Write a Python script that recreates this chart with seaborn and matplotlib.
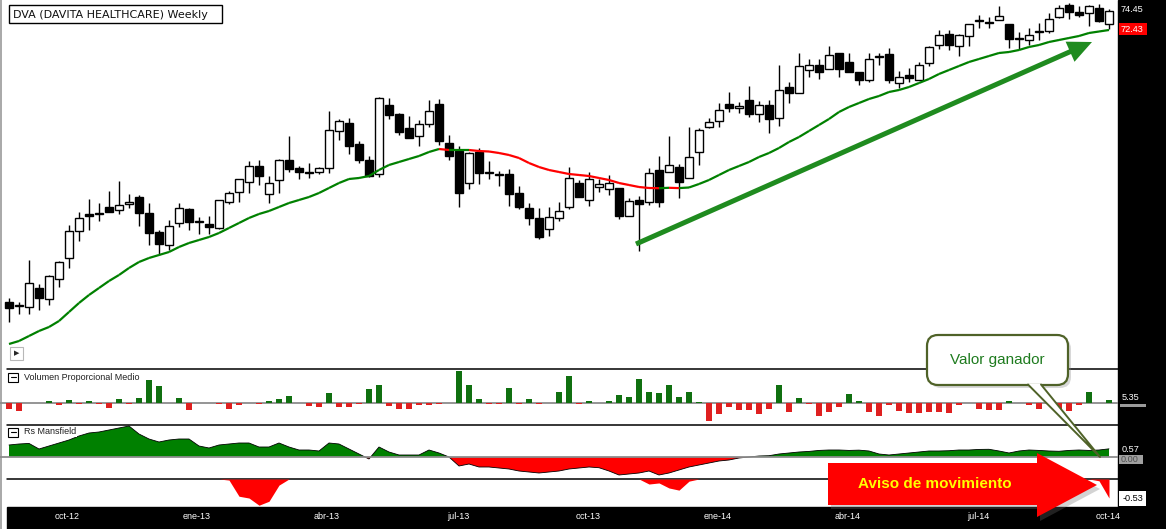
import numpy as np
import pandas as pd
import matplotlib
matplotlib.use("Agg")
import matplotlib.pyplot as plt
import seaborn as sns
from matplotlib.collections import LineCollection
from matplotlib.patches import Rectangle, FancyBboxPatch, Polygon, FancyArrow

# === Weekly candles (DVA, aug-12 .. oct-14) ===
opens = [45.3, 44.9, 44.8, 46.7, 45.6, 47.6, 49.7, 52.4, 54.1, 54.1,
         54.8, 54.5, 55.1, 55.8, 54.2, 52.3, 51.0, 53.2, 54.6, 53.3,
         53.1, 52.7, 55.3, 56.3, 57.3, 58.9, 56.1, 57.5, 59.5, 58.7,
         58.2, 58.3, 58.7, 62.4, 63.2, 61.1, 59.5, 58.1, 65.0, 64.1,
         62.7, 61.9, 63.1, 65.1, 61.2, 60.4, 57.2, 60.3, 58.2, 58.0,
         58.1, 56.2, 54.7, 53.7, 52.6, 53.7, 54.8, 57.2, 55.5, 56.8,
         56.6, 56.7, 53.9, 55.5, 55.3, 58.5, 58.3, 58.8, 57.7, 60.3,
         62.8, 63.4, 65.1, 64.7, 65.5, 64.1, 65.0, 63.7, 66.8, 66.2,
         68.5, 69.0, 68.6, 70.2, 69.3, 68.3, 67.5, 69.8, 70.1, 67.2,
         68.0, 67.5, 69.2, 71.0, 72.1, 70.9, 71.9, 73.4, 73.3, 73.5,
         73.1, 71.6, 71.5, 72.3, 72.4, 73.8, 75.0, 74.3, 74.2, 74.7, 73.1]
highs = [45.7, 45.3, 49.5, 47.1, 48.0, 49.4, 53.0, 54.3, 55.6, 55.2,
         56.4, 57.4, 56.1, 56.0, 55.2, 52.5, 53.5, 55.2, 54.7, 53.8,
         53.9, 55.5, 56.4, 57.6, 59.4, 59.5, 57.9, 59.6, 61.9, 58.9,
         59.2, 58.8, 64.4, 63.6, 63.7, 61.4, 59.9, 65.8, 65.7, 64.2,
         63.9, 63.5, 65.5, 65.6, 62.0, 60.9, 60.3, 60.7, 59.4, 58.4,
         58.6, 56.9, 55.2, 54.7, 54.8, 55.3, 58.8, 57.5, 58.3, 57.6,
         58.0, 56.7, 55.7, 55.9, 58.7, 59.9, 61.9, 59.1, 62.8, 62.7,
         63.7, 65.2, 66.3, 65.3, 66.9, 65.4, 65.5, 69.0, 67.3, 70.2,
         69.6, 69.6, 70.9, 70.2, 70.2, 68.3, 70.2, 70.2, 70.7, 68.4,
         68.7, 69.3, 70.9, 72.5, 72.5, 72.1, 73.1, 74.0, 73.8, 74.9,
         73.1, 72.3, 72.7, 73.2, 74.2, 75.0, 75.2, 74.9, 75.0, 75.1, 74.6]
lows = [43.3, 44.1, 44.1, 44.5, 45.0, 46.8, 48.7, 51.4, 52.5, 53.4,
        54.3, 54.1, 54.7, 52.9, 51.0, 50.0, 50.5, 52.8, 52.5, 52.1,
        52.1, 52.6, 55.1, 55.3, 56.2, 57.0, 55.2, 56.2, 58.3, 57.6,
        57.7, 58.1, 58.2, 61.5, 60.1, 59.2, 57.8, 57.8, 63.6, 62.0,
        61.7, 60.9, 62.8, 61.0, 59.5, 54.8, 56.6, 57.1, 57.6, 56.9,
        54.9, 54.6, 53.0, 51.6, 51.9, 53.4, 54.6, 55.8, 54.9, 56.3,
        56.0, 53.6, 53.9, 50.4, 55.0, 54.8, 58.3, 55.7, 57.7, 59.0,
        62.7, 62.8, 64.3, 64.2, 63.8, 63.3, 62.2, 62.9, 65.2, 66.2,
        67.8, 67.6, 68.6, 67.8, 68.3, 67.0, 67.3, 69.0, 67.2, 66.7,
        67.3, 67.5, 68.9, 70.6, 70.5, 69.9, 70.9, 72.7, 72.7, 73.5,
        70.7, 70.6, 71.0, 71.5, 72.2, 73.7, 73.6, 73.8, 72.9, 73.3, 72.6]
closes = [44.7, 44.9, 47.2, 45.7, 47.9, 49.3, 52.4, 53.7, 53.9, 54.1,
          54.3, 55.0, 55.3, 54.2, 52.2, 51.1, 52.9, 54.7, 53.3, 53.3,
          52.8, 55.5, 56.2, 57.6, 58.9, 57.9, 57.2, 59.5, 58.6, 58.3,
          58.2, 58.7, 62.5, 63.4, 60.9, 59.5, 57.9, 65.7, 64.0, 62.3,
          61.7, 63.1, 64.4, 61.4, 59.9, 56.2, 60.2, 58.2, 58.2, 58.0,
          56.1, 54.8, 53.7, 51.8, 53.8, 54.4, 57.7, 55.8, 57.6, 57.1,
          57.2, 53.9, 55.4, 55.1, 58.2, 55.3, 59.0, 57.3, 59.8, 62.5,
          63.3, 64.5, 64.7, 64.9, 64.1, 65.0, 63.6, 66.5, 66.2, 68.9,
          69.0, 68.3, 70.0, 68.6, 68.3, 67.5, 69.6, 69.8, 67.5, 67.8,
          67.7, 69.0, 70.8, 72.0, 71.0, 72.0, 73.1, 73.4, 73.2, 73.9,
          71.6, 71.6, 72.0, 72.3, 73.6, 74.7, 74.3, 74.0, 74.9, 73.4, 74.4]

# 30-week average as drawn on the chart
ma30 = [41.1, 41.4, 41.9, 42.4, 42.8, 43.4, 44.3, 45.2, 46.0, 46.7,
        47.4, 48.0, 48.7, 49.3, 49.7, 50.0, 50.3, 50.8, 51.2, 51.5,
        51.8, 52.2, 52.7, 53.2, 53.7, 54.1, 54.4, 54.8, 55.2, 55.5,
        55.8, 56.2, 56.7, 57.2, 57.6, 57.7, 57.9, 58.5, 59.0, 59.3,
        59.6, 59.9, 60.3, 60.6, 60.5, 60.5, 60.5, 60.4, 60.35, 60.2,
        60.0, 59.7, 59.2, 58.8, 58.5, 58.3, 58.1, 58.0, 57.9, 57.7,
        57.5, 57.2, 57.0, 56.8, 56.7, 56.68, 56.72, 56.69, 56.75, 57.1,
        57.5, 58.0, 58.5, 58.9, 59.3, 59.8, 60.2, 60.7, 61.3, 61.8,
        62.4, 63.0, 63.6, 64.3, 64.8, 65.2, 65.6, 65.9, 66.3, 66.5,
        66.8, 67.2, 67.6, 68.1, 68.5, 68.9, 69.3, 69.6, 69.9, 70.2,
        70.3, 70.5, 70.8, 71.0, 71.3, 71.5, 71.7, 71.9, 72.2, 72.35, 72.5]

# Volumen Proporcional Medio (deviation from average volume)
volume = [-6, -8, 0, 0, 1.3, -2.7, 2.3, -1.3, 1.3, -1.3,
          -5.3, 3.3, -1.3, 4.3, 22.3, 16.3, 0, 4.3, -7.7, 0,
          0, -1.3, -6.3, -2.7, 0, -1.3, 1.3, 3.3, 6.3, 0,
          -3.7, -4.7, 9.3, -4.7, -4.7, -1.3, 13.3, 17.3, -3.7, -6.3,
          -6.3, -2.3, -2.7, -1.3, 0, 31.3, 17.3, 3.3, -1.3, -1.3,
          14.3, -1.3, 3.3, -1.3, 0, 10.3, 26.3, -1.3, 1.3, 0,
          1.3, 8, 6, 24, 10.3, 9.3, 18, 6, 11, 1,
          -18.7, -11.7, -4.7, -7, -7, -11.7, -6, 18, -9, 5,
          -1.3, -13, -9, -4, 8.3, 2, -9, -13, -2.7, -8,
          -10.7, -10.7, -9, -9, -10.7, -2.7, 0, -6, -7, -7,
          2, 0, -2.7, -6, 0, -6, -8, -2.7, 11, 0, 3]

# Rs Mansfield
rs_mansfield = [0.84, 0.91, 0.95, 0.56, 0.77, 0.98, 1.19, 1.47, 1.68, 1.75,
                1.89, 2.03, 2.17, 1.61, 1.26, 1.05, 1.19, 1.26, 1.26, 0.77,
                0.63, 0.84, 0.91, 0.98, 0.98, 0.70, 0.70, 0.98, 0.70, 0.49,
                0.49, 0.42, 0.98, 0.91, 0.56, 0.21, -0.14, 0.70, 0.35, 0.14,
                0.14, 0.14, 0.49, 0.28, 0.0, -0.63, -0.49, -0.70, -0.70, -0.77,
                -0.84, -0.98, -1.05, -1.12, -1.05, -0.98, -0.84, -0.77, -0.70, -0.75,
                -0.98, -1.26, -1.19, -1.12, -0.98, -1.26, -1.12, -0.91, -0.70, -0.56,
                -0.42, -0.28, -0.21, -0.07, 0.0, 0.07, 0.09, 0.21, 0.28, 0.35,
                0.39, 0.46, 0.49, 0.49, 0.46, 0.48, 0.42, 0.21, 0.14, 0.21,
                0.28, 0.35, 0.42, 0.42, 0.44, 0.49, 0.49, 0.53, 0.54, 0.42,
                0.28, 0.42, 0.49, 0.46, 0.42, 0.40, 0.46, 0.49, 0.46, 0.49, 0.57]

# second (negative-only) trace under the Mansfield panel
rs_signal = ([0.0] * 22 + [-0.03, -0.48, -0.53, -0.73, -0.62, -0.17]
             + [0.0] * 36 + [-0.14, -0.11, -0.25, -0.31, -0.06]
             + [0.0] * 40 + [-0.05, -0.53])

tick_labels = ["oct-12", "ene-13", "abr-13", "jul-13", "oct-13",
               "ene-14", "abr-14", "jul-14", "oct-14"]
tick_weeks = [5.8, 18.8, 31.8, 44.9, 57.9, 70.9, 83.9, 96.9, 109.9]

# === Figure setup ===
sns.set_theme(style="white")
plt.rcParams["font.family"] = ["Liberation Sans", "DejaVu Sans"]

W, H = 1166, 529
PLOT_R = 1118
fig = plt.figure(figsize=(W / 100, H / 100), dpi=100, facecolor="white")


def px_axes(x0, y0, x1, y1, z):
    ax = fig.add_axes([x0 / W, 1 - y1 / H, (x1 - x0) / W, (y1 - y0) / H], zorder=z)
    ax.set_facecolor("none")
    return ax


canvas = px_axes(0, 0, W, H, 0)
canvas.set_xlim(0, W)
canvas.set_ylim(H, 0)
canvas.axis("off")
canvas.add_patch(Rectangle((PLOT_R, 0), W - PLOT_R, H, color="black"))
canvas.add_patch(Rectangle((7, 507), PLOT_R - 7, H - 507, color="black"))
canvas.plot([0.7, 0.7], [0, H], color="#9a9a9a", lw=1.2)
for y in (368.5, 425, 479):
    canvas.plot([7, PLOT_R], [y, y], color="black", lw=1.1)

week = np.arange(len(closes))
xlim = (-0.9, 110.9)

# --- price panel ---
ax_p = px_axes(0, 0, PLOT_R, 368, 1)
o, hi, lo, c = (np.array(a) for a in (opens, highs, lows, closes))
up = c >= o
ax_p.vlines(week, lo, hi, color="black", lw=1.0, zorder=2)
ax_p.bar(week, np.maximum(np.abs(c - o), 0.06), bottom=np.minimum(o, c), width=0.72,
         color=np.where(up, "white", "black"), edgecolor="black", linewidth=1.0, zorder=3)

ma = np.array(ma30)
pts = np.column_stack([week, ma])
segs = np.stack([pts[:-1], pts[1:]], axis=1)
seg_cols = np.where(np.diff(ma) < 0, "#ff0000", "#008000")
ax_p.add_collection(LineCollection(segs, colors=seg_cols, linewidths=1.6, zorder=4))
ax_p.set_xlim(*xlim)
ax_p.set_ylim(38.7, 75.5)
ax_p.axis("off")

# --- volume panel ---
ax_v = px_axes(0, 369, PLOT_R, 425, 1)
vol_df = pd.DataFrame({"week": week, "vol": volume,
                       "side": np.where(np.array(volume) >= 0, "up", "down")})
sns.barplot(data=vol_df, x="week", y="vol", hue="side",
            palette={"up": "#008000", "down": "#ff0000"}, native_scale=True,
            dodge=False, width=0.55, errorbar=None, legend=False, linewidth=0, ax=ax_v)
ax_v.axhline(0, color="#8c8c8c", lw=1.3, zorder=0)
ax_v.set_xlim(*xlim)
ax_v.set_ylim(-22.5, 33.5)
ax_v.axis("off")

# --- Rs Mansfield panel ---
ax_r = px_axes(0, 425, PLOT_R, 479, 1)
rs = np.array(rs_mansfield)
ax_r.fill_between(week, rs, 0, where=rs >= 0, interpolate=True, color="#008000", lw=0)
ax_r.fill_between(week, rs, 0, where=rs <= 0, interpolate=True, color="#ff0000", lw=0)
sns.lineplot(x=week, y=rs, color="black", lw=0.6, ax=ax_r)
ax_r.axhline(0, color="#8c8c8c", lw=1.3)
ax_r.set_xlim(*xlim)
ax_r.set_ylim(-1.54, 2.24)
ax_r.axis("off")

ax_s = px_axes(0, 479, PLOT_R, 507, 1)
sig = np.array(rs_signal)
ax_s.fill_between(week, sig, 0, color="#ff0000", lw=0)
ax_s.set_xlim(*xlim)
ax_s.set_ylim(-0.78, 0)
for s in ax_s.spines.values():
    s.set_visible(False)
ax_s.set_yticks([])
ax_s.set_xticks(tick_weeks, tick_labels)
ax_s.tick_params(axis="x", length=0, colors="white", labelsize=6.5, pad=3.5)

# --- overlay: labels and drawn annotations ---
ov = px_axes(0, 0, W, H, 5)
ov.set_xlim(0, W)
ov.set_ylim(H, 0)
ov.axis("off")

ov.add_patch(Rectangle((9, 5), 213, 18, fc="white", ec="black", lw=1))
ov.text(13, 14.5, "DVA (DAVITA HEALTHCARE) Weekly", fontsize=8, family="DejaVu Sans",
        va="center", ha="left", color="#101010")

ov.add_patch(Rectangle((10, 347), 13, 13, fc="white", ec="#b8b8b8", lw=0.8))
ov.text(16.5, 353.5, "▶", fontsize=5, family="DejaVu Sans", ha="center", va="center")


def panel_label(y, text):
    ov.text(24, y, text, fontsize=6.5, va="center", ha="left", color="#202020",
            bbox=dict(fc="white", ec="none", pad=0.6))
    ov.add_patch(Rectangle((8, y - 4.5), 10, 9, fc="white", ec="black", lw=0.8))
    ov.plot([10.5, 15.5], [y, y], color="black", lw=0.8)


panel_label(377, "Volumen Proporcional Medio")
panel_label(432, "Rs Mansfield")

# trend arrow
ov.add_patch(FancyArrow(636, 244, 1092 - 636, 42 - 244, width=5, head_width=22,
                        head_length=24, length_includes_head=True, color="#1f8b1f", lw=0))

# "Aviso de movimiento" block arrow
arrow_pts = [(828, 463), (1037, 463), (1037, 453), (1097, 485), (1037, 517), (1037, 505), (828, 505)]
ov.add_patch(Polygon([(x + 3, y + 4) for x, y in arrow_pts], fc="#707070", alpha=0.3, lw=0))
ov.add_patch(Polygon(arrow_pts, fc="#ff0000", lw=0))
ov.text(935, 484, "Aviso de movimiento", fontsize=11, fontweight="bold", color="#ffff00",
        ha="center", va="center")

# "Valor ganador" callout
ov.add_patch(FancyBboxPatch((930, 338), 141, 50, boxstyle="round,pad=0,rounding_size=11",
                            fc="#808080", alpha=0.3, lw=0))
ov.add_patch(FancyBboxPatch((927, 335), 141, 50, boxstyle="round,pad=0,rounding_size=11",
                            fc="white", ec="#4f6228", lw=1.6))
ov.add_patch(Polygon([(1028, 384), (1041, 384), (1100, 457)], fc="white", ec="none"))
ov.plot([1028, 1100, 1041], [384.5, 457, 384.5], color="#4f6228", lw=1.4)
ov.text(997, 360, "Valor ganador", fontsize=11, color="#1e7b1e", ha="center", va="center")

# right scale labels
ov.text(1121, 9.5, "74.45", fontsize=6.6, color="white", va="center")
ov.add_patch(Rectangle((1119, 23), 28, 12, fc="#ff0000", lw=0))
ov.text(1121, 29, "72.43", fontsize=6.6, color="white", va="center")
ov.text(1122, 398, "5.35", fontsize=6.6, color="white", va="center")
ov.add_patch(Rectangle((1120, 404), 26, 3, fc="#9a9a9a", lw=0))
ov.add_patch(Rectangle((1119, 455), 24, 9, fc="#a0a0a0", lw=0))
ov.text(1121, 459.5, "0.00", fontsize=6.6, color="#505050", va="center")
ov.text(1122, 449, "0.57", fontsize=6.6, color="white", va="center")
ov.add_patch(Rectangle((1119, 491), 27, 15, fc="white", lw=0))
ov.text(1132.5, 498.5, "-0.53", fontsize=6.6, color="black", va="center", ha="center")

fig.savefig("out.png", dpi=100, facecolor="white")
